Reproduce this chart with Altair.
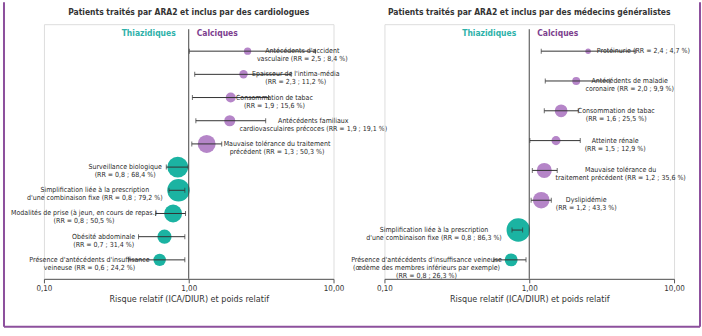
import math
import altair as alt
import pandas as pd

# ---------------- data ----------------
card_labels = [
    "Antécédents d'accident\nvasculaire (RR = 2,5 ; 8,4 %)",
    "Epaisseur de l'intima-média\n(RR = 2,3 ; 11,2 %)",
    "Consommation de tabac\n(RR = 1,9 ; 15,6 %)",
    "Antécédents familiaux\ncardiovasculaires précoces (RR = 1,9 ; 19,1 %)",
    "Mauvaise tolérance du traitement\nprécédent (RR = 1,3 ; 50,3 %)",
    "Surveillance biologique\n(RR = 0,8 ; 68,4 %)",
    "Simplification liée à la prescription\nd'une combinaison fixe (RR = 0,8 ; 79,2 %)",
    "Modalités de prise (à jeun, en cours de repas.)\n(RR = 0,8 ; 50,5 %)",
    "Obésité abdominale\n(RR = 0,7 ; 31,4 %)",
    "Présence d'antécédents d'insuffisance\nveineuse (RR = 0,6 ; 24,2 %)",
]
card_rr = [2.55, 2.39, 1.95, 1.92, 1.33, 0.84, 0.85, 0.78, 0.68, 0.63]
card_lo = [1.01, 1.10, 1.06, 1.12, 1.05, 0.70, 0.73, 0.59, 0.45, 0.385]
card_hi = [7.5, 5.1, 3.56, 3.4, 1.69, 0.99, 0.94, 0.95, 0.94, 0.94]
card_weight = [8.4, 11.2, 15.6, 19.1, 50.3, 68.4, 79.2, 50.5, 31.4, 24.2]

gp_labels = [
    "Protéinurie (RR = 2,4 ; 4,7 %)",
    "Antécédents de maladie\ncoronaire (RR = 2,0 ; 9,9 %)",
    "Consommation de tabac\n(RR = 1,6 ; 25,5 %)",
    "Atteinte rénale\n(RR = 1,5 ; 12,9 %)",
    "Mauvaise tolérance du\ntraitement précédent (RR = 1,2 ; 35,6 %)",
    "Dyslipidémie\n(RR = 1,2 ; 43,3 %)",
    "Simplification liée à la prescription\nd'une combinaison fixe (RR = 0,8 ; 86,3 %)",
    "Présence d'antécédents d'insuffisance veineuse\n(œdème des membres inférieurs par exemple)\n(RR = 0,8 ; 26,3 %)",
]
gp_rr = [2.55, 2.11, 1.66, 1.53, 1.27, 1.21, 0.84, 0.75]
gp_lo = [1.21, 1.29, 1.27, 1.01, 1.05, 1.03, 0.76, 0.57]
gp_hi = [5.4, 3.6, 2.18, 2.25, 1.56, 1.42, 0.90, 0.95]
gp_weight = [4.7, 9.9, 25.5, 12.9, 35.6, 43.3, 86.3, 26.3]

titles = [
    "Patients traités par ARA2 et inclus par des cardiologues",
    "Patients traités par ARA2 et inclus par des médecins généralistes",
]
groups = ["Thiazidiques", "Calciques"]
tick_values = [0.1, 1.0, 10.0]
axis_title = "Risque relatif (ICA/DIUR) et poids relatif"

# ---------------- style ----------------
W = 290
H = 255
FONT = "Liberation Sans Narrow, DejaVu Sans Condensed, Arial Narrow, sans-serif"
TEAL = "#1bb3a2"
LILAC = "#b585c8"
PURPLE = "#7c3e8e"
TEAL_TXT = "#2db1a9"
FRAME = "#8d509d"
INK = "#2b2b2b"
AREA_PER_PCT = 6.4
CHAR_W = 3.15
GAP = 5
FIRST_ROW, LAST_ROW = 27, 236


def px(v):
    return W * (math.log10(v) + 1) / 2


def val(p):
    return 10 ** (2 * p / W - 1)


def build_df(labels, rr, lo, hi, wt):
    recs = []
    for i, (lab, r, l, h, w) in enumerate(zip(labels, rr, lo, hi, wt)):
        rad = math.sqrt(w * AREA_PER_PCT / math.pi)
        width = max(len(s) for s in lab.split("\n")) * CHAR_W
        if r >= 1:
            start = px(h) + GAP
            if start + width > W:
                start = px(r) + rad + GAP
            center = start + width / 2
            grp = groups[1]
        else:
            end = px(l) - GAP
            if end - width < 0:
                end = px(r) - rad - GAP
            center = end - width / 2
            grp = groups[0]
        recs.append(dict(label=lab, rr=r, lo=l, hi=h, weight=w, row=i,
                         group=grp, labx=val(center)))
    return pd.DataFrame(recs)


X_SCALE = alt.Scale(type="log", domain=[0.1, 10], nice=False)
X_AXIS = alt.Axis(values=tick_values, title=axis_title, grid=False,
                  labelExpr="replace(format(datum.value, '.2f'), '.', ',')",
                  labelFlush=False, tickSize=4, domainColor="#555", tickColor="#555",
                  labelFont=FONT, labelFontSize=8, labelColor="#333", labelPadding=2,
                  titleFont=FONT, titleFontSize=9, titleFontWeight="normal",
                  titleColor="#333", titlePadding=2)


def panel(df, title, frame_layers):
    n = len(df)
    step = (LAST_ROW - FIRST_ROW) / (n - 1)
    y_scale = alt.Scale(domain=[-FIRST_ROW / step, (H - FIRST_ROW) / step],
                        reverse=True, nice=False, zero=False)
    Y = lambda f: alt.Y(f + ":Q", scale=y_scale, axis=None)
    base = alt.Chart(df)
    one = alt.Chart(pd.DataFrame({"a": [0]}))

    circles = base.mark_circle(opacity=1).encode(
        x=alt.X("rr:Q", scale=X_SCALE, axis=X_AXIS),
        y=Y("row"),
        size=alt.Size("weight:Q", scale=alt.Scale(domain=[0, 100], range=[0, 100 * AREA_PER_PCT]), legend=None),
        color=alt.Color("group:N", scale=alt.Scale(domain=groups, range=[TEAL, LILAC]), legend=None),
    )
    bars = base.mark_rule(color="#333", strokeWidth=1).encode(
        x=alt.X("lo:Q", scale=X_SCALE, axis=X_AXIS), x2="hi:Q", y=Y("row"))
    cap_lo = base.mark_tick(orient="vertical", size=5, thickness=1, color="#333").encode(
        x=alt.X("lo:Q", scale=X_SCALE, axis=X_AXIS), y=Y("row"))
    cap_hi = base.mark_tick(orient="vertical", size=5, thickness=1, color="#333").encode(
        x=alt.X("hi:Q", scale=X_SCALE, axis=X_AXIS), y=Y("row"))
    labels = base.mark_text(font=FONT, fontSize=7, lineBreak="\n", lineHeight=8,
                            align="center", baseline="middle", color=INK).encode(
        x=alt.X("labx:Q", scale=X_SCALE, axis=X_AXIS), y=Y("row"), text="label:N")
    vline = one.mark_rule(color="#444", strokeWidth=1).encode(
        x=alt.X(datum=1.0, scale=X_SCALE, axis=X_AXIS), y=alt.value(5), y2=alt.value(H))
    h_left = one.mark_text(font=FONT, fontSize=8.5, fontWeight="bold", align="right",
                           baseline="middle", dx=-13, color=TEAL_TXT).encode(
        x=alt.X(datum=1.0, scale=X_SCALE, axis=X_AXIS), y=alt.value(9), text=alt.value(groups[0]))
    h_right = one.mark_text(font=FONT, fontSize=8.5, fontWeight="bold", align="left",
                            baseline="middle", dx=8, color=PURPLE).encode(
        x=alt.X(datum=1.0, scale=X_SCALE, axis=X_AXIS), y=alt.value(9), text=alt.value(groups[1]))
    ttl = one.mark_text(font=FONT, fontSize=8.5, fontWeight="bold", align="center",
                        baseline="middle", color="#333").encode(
        x=alt.value(W / 2), y=alt.value(-12), text=alt.value(title))
    layers = [circles, bars, cap_lo, cap_hi, labels, vline, h_left, h_right, ttl]
    for fl in frame_layers:
        layers.append(one.mark_rule(color=FRAME, strokeWidth=2).encode(**fl))
    return alt.layer(*layers).properties(width=W, height=H)


left_frame = [
    dict(x=alt.value(-40), y=alt.value(-22), y2=alt.value(303)),
    dict(x=alt.value(-40), x2=alt.value(657), y=alt.value(303)),
]
right_frame = [
    dict(x=alt.value(316), y=alt.value(-22), y2=alt.value(303)),
]

left = panel(build_df(card_labels, card_rr, card_lo, card_hi, card_weight), titles[0], left_frame)
right = panel(build_df(gp_labels, gp_rr, gp_lo, gp_hi, gp_weight), titles[1], right_frame)

chart = alt.hconcat(left, right, spacing=51, bounds="flush").properties(
    padding={"left": 2, "top": 0, "right": 0, "bottom": 0}
).configure_view(strokeOpacity=0).configure(background="white")

chart.save("out.html", embed_options={"renderer": "svg", "actions": False})
